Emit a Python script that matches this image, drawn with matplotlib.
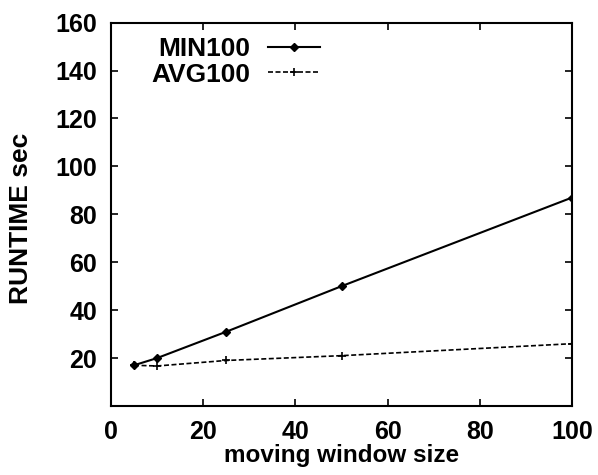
import matplotlib
matplotlib.use("Agg")
import matplotlib.pyplot as plt

# window sizes and runtimes
window = [5, 10, 25, 50, 100]
min100 = [17, 20, 31, 50, 87]
avg100 = [17, 16.7, 19, 21, 26]
yticks = [20, 40, 60, 80, 100, 120, 140, 160]
xticks = [0, 20, 40, 60, 80, 100]

plt.rcParams['font.family'] = ['Liberation Sans', 'DejaVu Sans']
fs = 18

fig = plt.figure(figsize=(5.98, 4.75), dpi=100)
ax = fig.add_axes([0.1856, 0.1453, 0.771, 0.807])

ax.plot(window, min100, color='black', linewidth=1.5, marker='D', markersize=4, label='MIN100')
ax.plot(window, avg100, color='black', linewidth=1.2, linestyle=(0, (3, 1.5)), marker='+',
        markersize=6, markeredgewidth=1.2, label='AVG100')

ax.set_xlim(0, 100)
ax.set_ylim(0, 160)
ax.set_xticks(xticks)
ax.set_yticks(yticks)
ax.tick_params(direction='in', length=5, width=1.2, top=True, right=True,
               labelsize=fs, pad=10)
for lbl in ax.get_xticklabels() + ax.get_yticklabels():
    lbl.set_fontweight('bold')
for s in ax.spines.values():
    s.set_linewidth(1.5)

ax.set_xlabel('moving window size', fontsize=17.5, fontweight='bold', labelpad=0)
ax.set_ylabel('RUNTIME sec', fontsize=19, fontweight='bold')
ax.yaxis.set_label_coords(-0.169, 0.49)

leg = ax.legend(loc='upper right', markerfirst=False, frameon=False,
                prop={'size': 19, 'weight': 'bold'}, handlelength=1.95,
                handletextpad=0.7, labelspacing=0.05, borderpad=0, borderaxespad=0,
                bbox_to_anchor=(0.453, 0.962))

fig.savefig('out.png', dpi=100)
